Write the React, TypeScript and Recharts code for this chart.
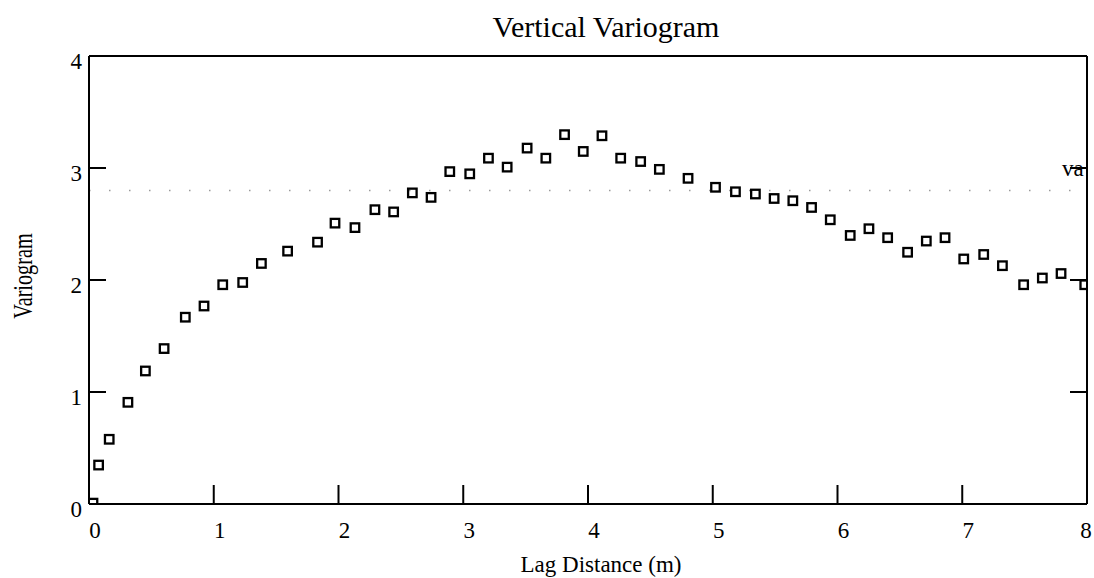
import React from 'react';
import { ScatterChart, Scatter, XAxis, YAxis, ReferenceLine } from 'recharts';

const lagDistance = [
  0.03, 0.075, 0.16, 0.31, 0.45, 0.6, 0.77, 0.92, 1.07, 1.23, 1.38, 1.59, 1.83, 1.97, 2.13, 2.29, 2.44, 2.59,
  2.74, 2.89, 3.05, 3.2, 3.35, 3.51, 3.66, 3.81, 3.96, 4.11, 4.26, 4.42, 4.57, 4.8, 5.02, 5.18, 5.34, 5.49,
  5.64, 5.79, 5.94, 6.1, 6.25, 6.4, 6.56, 6.71, 6.86, 7.01, 7.17, 7.32, 7.49, 7.64, 7.79, 7.98,
];
const variogram = [
  0.01, 0.35, 0.58, 0.91, 1.19, 1.39, 1.67, 1.77, 1.96, 1.98, 2.15, 2.26, 2.34, 2.51, 2.47, 2.63, 2.61, 2.78,
  2.74, 2.97, 2.95, 3.09, 3.01, 3.18, 3.09, 3.3, 3.15, 3.29, 3.09, 3.06, 2.99, 2.91, 2.83, 2.79, 2.77, 2.73,
  2.71, 2.65, 2.54, 2.4, 2.46, 2.38, 2.25, 2.35, 2.38, 2.19, 2.23, 2.13, 1.96, 2.02, 2.06, 1.96,
];
const xTicks = [0, 1, 2, 3, 4, 5, 6, 7, 8];
const xTopTicks = [1, 2, 3, 4, 5, 6, 7];
const yTicks = [0, 1, 2, 3, 4];
const yRightTicks = [1, 2, 3];
const sill = 2.8;

const points = lagDistance.map((x, i) => ({ x, y: variogram[i] }));

const serif = '"Liberation Serif", "DejaVu Serif", serif';

const SquareMarker = (props: any) => {
  const { cx, cy } = props;
  if (cx == null || cy == null) return null;
  return <rect x={cx - 4} y={cy - 4} width={8.5} height={8.5} fill="none" stroke="#000" strokeWidth={2.3} />;
};

const SillLabel = (props: any) => {
  const vb = props.viewBox || {};
  return (
    <text x={vb.x + vb.width - 25} y={vb.y - 14} fontFamily={serif} fontSize={23} fill="#000">
      va
    </text>
  );
};

// bottom labels sit a little right of their tick; the last one is pulled in so it stays on the page
const BottomTick = (props: any) => {
  const { x, y, payload } = props;
  const last = payload.value === xTicks[xTicks.length - 1];
  return (
    <text x={x + (last ? -1 : 6)} y={y + 17} textAnchor="middle" fontFamily={serif} fontSize={23} fill="#000">
      {payload.value}
    </text>
  );
};

export default function App() {
  const axisLine = { stroke: '#000', strokeWidth: 2 };
  const tickLine = { stroke: '#000', strokeWidth: 2 };
  return (
    <div style={{ position: 'absolute', left: 0, top: 0, width: 1094, height: 578, background: '#fff' }}>
      <ScatterChart width={1094} height={578} margin={{ top: 55, right: 6, bottom: 14, left: 9 }}>
        <XAxis
          dataKey="x" type="number" domain={[0, 8]} ticks={xTicks} allowDataOverflow
          height={60} axisLine={axisLine} tickLine={tickLine} tickSize={-19} tickMargin={36}
          tick={<BottomTick />} interval={0}
        />
        <XAxis
          xAxisId="top" orientation="top" type="number" domain={[0, 8]} ticks={xTopTicks} allowDataOverflow
          height={1} axisLine={axisLine} tickLine={tickLine} tickSize={-19} tickFormatter={() => ''} interval={0}
        />
        <YAxis
          dataKey="y" type="number" domain={[0, 4]} ticks={yTicks} allowDataOverflow
          width={80} axisLine={axisLine} tickLine={tickLine} tickSize={-17} tickMargin={24}
          tick={{ fill: '#000', fontSize: 23, fontFamily: serif, dy: 5 }} interval={0}
        />
        <YAxis
          yAxisId="right" orientation="right" type="number" domain={[0, 4]} ticks={yRightTicks} allowDataOverflow
          width={1} axisLine={axisLine} tickLine={tickLine} tickSize={-17} tickFormatter={() => ''} interval={0}
        />
        <ReferenceLine
          y={sill} stroke="#9a9a9a" strokeWidth={1.5} strokeDasharray="1.5 18.5" label={<SillLabel />}
        />
        <Scatter data={points} shape={<SquareMarker />} isAnimationActive={false} />
      </ScatterChart>
      <svg
        width={1094} height={578}
        style={{ position: 'absolute', left: 0, top: 0, pointerEvents: 'none' }}
      >
        <text x={606} y={37} textAnchor="middle" fontFamily={serif} fontSize={30} fill="#000">
          Vertical Variogram
        </text>
        <text x={601} y={572} textAnchor="middle" fontFamily={serif} fontSize={23} fill="#000">
          Lag Distance (m)
        </text>
        <text
          transform="translate(32, 276) rotate(-90) scale(0.75, 1)"
          textAnchor="middle" fontFamily={serif} fontSize={27} fill="#000"
        >
          Variogram
        </text>
      </svg>
    </div>
  );
}
